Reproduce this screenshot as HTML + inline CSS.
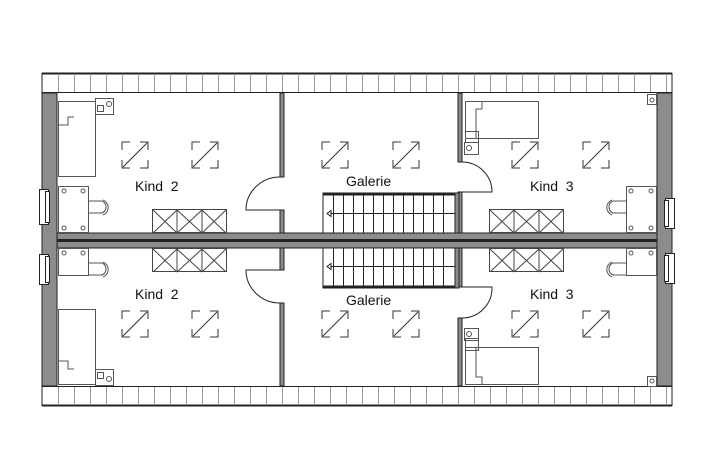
<!DOCTYPE html>
<html><head><style>body{margin:0;background:#fff}svg{display:block}text{font-family:"Liberation Sans",sans-serif;font-size:14px;fill:#111}</style></head>
<body>
<svg width="715" height="475" viewBox="0 0 715 475" xmlns="http://www.w3.org/2000/svg">
<g stroke="#222" fill="none" stroke-width="1">
<line x1="42" y1="73.5" x2="672" y2="73.5" stroke-width="2"/>
<line x1="42" y1="92.5" x2="672" y2="92.5"/>
<line x1="42" y1="73" x2="42" y2="93"/><line x1="672" y1="73" x2="672" y2="93"/>
<line x1="42" y1="386.5" x2="672" y2="386.5"/>
<line x1="42" y1="405.5" x2="672" y2="405.5" stroke-width="2"/>
<line x1="42" y1="386" x2="42" y2="406"/><line x1="672" y1="386" x2="672" y2="406"/>
</g>
<g stroke="#999" stroke-width="1">
<path id="ticks" d="M58.5 74v18M74.5 74v18M90.5 74v18M106.5 74v18M122.5 74v18M138.5 74v18M154.5 74v18M170.5 74v18M186.5 74v18M202.5 74v18M218.5 74v18M234.5 74v18M250.5 74v18M266.5 74v18M282.5 74v18M298.5 74v18M314.5 74v18M330.5 74v18M346.5 74v18M362.5 74v18M378.5 74v18M394.5 74v18M410.5 74v18M426.5 74v18M442.5 74v18M458.5 74v18M474.5 74v18M490.5 74v18M506.5 74v18M522.5 74v18M538.5 74v18M554.5 74v18M570.5 74v18M586.5 74v18M602.5 74v18M618.5 74v18M634.5 74v18M650.5 74v18M666.5 74v18"/>
<use href="#ticks" transform="translate(0,313)"/>
</g>
<rect x="42" y="93" width="15" height="293" fill="#8c8c8c" stroke="#222"/>
<rect x="657" y="93" width="15" height="293" fill="#8c8c8c" stroke="#222"/>
<rect x="57" y="233" width="600" height="15" fill="#8c8c8c" stroke="#222"/>
<line x1="57" y1="240.5" x2="657" y2="240.5" stroke="#222" stroke-width="3"/>
<g fill="#8c8c8c" stroke="#222">
<rect x="280" y="93" width="4" height="84"/><rect x="280" y="210" width="4" height="23"/>
<rect x="280" y="248" width="4" height="22"/><rect x="280" y="303" width="4" height="83"/>
<rect x="458" y="93" width="4" height="69"/><rect x="458" y="192" width="4" height="41"/>
<rect x="458" y="248" width="4" height="39"/><rect x="458" y="318" width="4" height="68"/>
</g>
<g stroke="#222" fill="none">
<path d="M280 177 A34 33 0 0 0 246 210 H280"/>
<path d="M280 303 A34 33 0 0 1 246 270 H280"/>
<path d="M462 162 A30 30 0 0 1 492 192 H462"/>
<path d="M462 318 A30 30 0 0 0 492 287 H462"/>
</g>
<g stroke="#222" fill="none">
<rect x="323" y="193" width="135" height="40" fill="#fff"/>
<rect x="323" y="248" width="135" height="40" fill="#fff"/>
<line x1="323" y1="194.5" x2="458" y2="194.5" stroke-width="2"/>
<line x1="323" y1="286.5" x2="458" y2="286.5" stroke-width="2"/>
<rect x="455" y="193" width="4" height="40" fill="#8c8c8c"/>
<rect x="455" y="248" width="4" height="40" fill="#8c8c8c"/>
<path d="M333.5 195v38M343.5 195v38M353.5 195v38M363.5 195v38M373.5 195v38M383.5 195v38M393.5 195v38M403.5 195v38M413.5 195v38M423.5 195v38M433.5 195v38M443.5 195v38M333.5 248v38M343.5 248v38M353.5 248v38M363.5 248v38M373.5 248v38M383.5 248v38M393.5 248v38M403.5 248v38M413.5 248v38M423.5 248v38M433.5 248v38M443.5 248v38"/>
<line x1="327" y1="213.5" x2="455" y2="213.5"/><line x1="327" y1="266.5" x2="455" y2="266.5"/>
<path d="M327 213.5l4-3v6z M327 266.5l4-3v6z" fill="#fff"/>
</g>
<g stroke="#333" fill="none" id="s1"><path d="M122 150v-8h8M140 142h8v8M148 160v8h-8M130 168h-8v-8"/><path d="M123 167L147 143"/></g>
<g fill="none">
<use href="#s1" transform="translate(70,0)"/><use href="#s1" transform="translate(200,0)"/><use href="#s1" transform="translate(271,0)"/><use href="#s1" transform="translate(390,0)"/><use href="#s1" transform="translate(461,0)"/>
<use href="#s1" transform="translate(0,169)"/><use href="#s1" transform="translate(70,169)"/><use href="#s1" transform="translate(200,169)"/><use href="#s1" transform="translate(271,169)"/><use href="#s1" transform="translate(390,169)"/><use href="#s1" transform="translate(461,169)"/>
</g>
<g stroke="#444" fill="none" id="cab"><rect x="152.5" y="209.5" width="74" height="23"/><path d="M177 210v23M202 210v23M153 210l24 23M177 210l-24 23M177 210l25 23M202 210l-25 23M202 210l24 23M226 210l-24 23"/></g>
<g fill="none">
<use href="#cab" transform="translate(0,39)"/><use href="#cab" transform="translate(337,0)"/><use href="#cab" transform="translate(337,39)"/>
</g>
<g stroke="#555" fill="none">
<rect x="58.5" y="101.5" width="37" height="75"/><path d="M58 125h10v-8h6"/>
<rect x="95.5" y="98.5" width="18" height="16"/><circle cx="109" cy="104" r="2.5"/><rect x="97.5" y="105.5" width="6" height="6"/>
<rect x="58.5" y="309.5" width="37" height="75"/><path d="M58 361h10v8h6"/>
<rect x="95.5" y="369.5" width="18" height="16"/><circle cx="109" cy="379" r="2.5"/><rect x="97.5" y="372.5" width="6" height="6"/>
<rect x="465.5" y="101.5" width="73" height="37"/><path d="M482 101v8h-6v30"/>
<rect x="465.5" y="131.5" width="13" height="11"/><rect x="464.5" y="142.5" width="14" height="12"/><circle cx="469" cy="148" r="2.5"/>
<rect x="465.5" y="347.5" width="73" height="37"/><path d="M482 385v-8h-6v-30"/>
<rect x="465.5" y="338.5" width="13" height="12"/><rect x="464.5" y="328.5" width="14" height="12"/><circle cx="469" cy="334" r="2.5"/>
<rect x="647.5" y="94.5" width="9" height="10"/><circle cx="652" cy="100" r="2"/>
<rect x="647.5" y="376.5" width="9" height="10"/><circle cx="652" cy="381" r="2"/>
<rect x="58.5" y="186.5" width="30" height="46"/><circle cx="64" cy="191" r="2"/><circle cx="83" cy="191" r="2"/><circle cx="64" cy="228" r="2"/><circle cx="83" cy="228" r="2"/>
<path d="M89 201h12a5 6 0 0 1 0 12h-12M103 200a8 8 0 0 1 0 15"/>
<rect x="58.5" y="248.5" width="30" height="27"/><circle cx="64" cy="253" r="2"/><circle cx="83" cy="253" r="2"/>
<path d="M89 263h12a5 6 0 0 1 0 12h-12M103 262a8 8 0 0 1 0 15"/>
<rect x="626.5" y="186.5" width="30" height="46"/><circle cx="631" cy="191" r="2"/><circle cx="651" cy="191" r="2"/><circle cx="631" cy="228" r="2"/><circle cx="651" cy="228" r="2"/>
<path d="M626 201h-12a5 6 0 0 0 0 12h12M612 200a8 8 0 0 0 0 15"/>
<rect x="626.5" y="248.5" width="30" height="27"/><circle cx="631" cy="253" r="2"/><circle cx="651" cy="253" r="2"/>
<path d="M626 263h-12a5 6 0 0 0 0 12h12M612 262a8 8 0 0 0 0 15"/>
</g>
<g stroke="#222" fill="#fff">
<rect x="39.5" y="189.5" width="9" height="35"/><rect x="45.5" y="191.5" width="4" height="31"/>
<rect x="39.5" y="254.5" width="9" height="30"/><rect x="45.5" y="256.5" width="4" height="26"/>
<rect x="665.5" y="198.5" width="9" height="30"/><rect x="664.5" y="200.5" width="4" height="26"/>
<rect x="665.5" y="253.5" width="9" height="30"/><rect x="664.5" y="255.5" width="4" height="26"/>
</g>
<text x="135" y="191">Kind&#160;&#160;2</text>
<text x="530" y="191">Kind&#160;&#160;3</text>
<text x="135" y="299">Kind&#160;&#160;2</text>
<text x="530" y="299">Kind&#160;&#160;3</text>
<text x="346" y="186">Galerie</text>
<text x="346" y="305">Galerie</text>
</svg>
</body></html>
